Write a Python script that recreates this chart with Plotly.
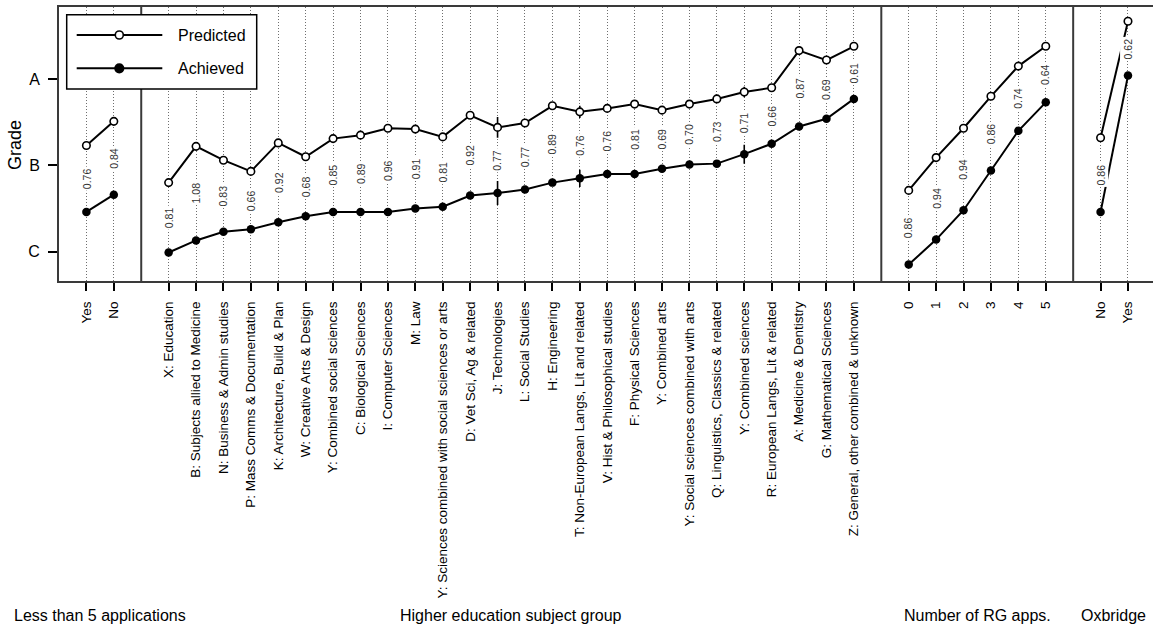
import plotly.graph_objects as go

# ---- data -------------------------------------------------------------
# Grades are on a numeric scale: C = 1, B = 2, A = 3
apps_labels = ["Yes", "No"]
apps_pred = [2.23, 2.51]
apps_ach = [1.46, 1.66]
apps_sd = ["0.76", "0.84"]

subject_labels = [
    "X: Education",
    "B: Subjects allied to Medicine",
    "N: Business & Admin studies",
    "P: Mass Comms & Documentation",
    "K: Architecture, Build & Plan",
    "W: Creative Arts & Design",
    "Y: Combined social sciences",
    "C: Biological Sciences",
    "I: Computer Sciences",
    "M: Law",
    "Y: Sciences combined with social sciences or arts",
    "D: Vet Sci, Ag & related",
    "J: Technologies",
    "L: Social Studies",
    "H: Engineering",
    "T: Non-European Langs, Lit and related",
    "V: Hist & Philosophical studies",
    "F: Physical Sciences",
    "Y: Combined arts",
    "Y: Social sciences combined with arts",
    "Q: Linguistics, Classics & related",
    "Y: Combined sciences",
    "R: European Langs, Lit & related",
    "A: Medicine & Dentistry",
    "G: Mathematical Sciences",
    "Z: General, other combined & unknown",
]
subject_pred = [1.80, 2.22, 2.06, 1.93, 2.26, 2.10, 2.31, 2.35, 2.43, 2.42,
                2.33, 2.58, 2.44, 2.49, 2.69, 2.62, 2.66, 2.71, 2.64, 2.71,
                2.77, 2.85, 2.90, 3.33, 3.22, 3.38]
subject_ach = [0.99, 1.13, 1.23, 1.26, 1.34, 1.41, 1.46, 1.46, 1.46, 1.50,
               1.52, 1.65, 1.68, 1.72, 1.80, 1.85, 1.90, 1.90, 1.96, 2.01,
               2.02, 2.13, 2.25, 2.45, 2.54, 2.77]
subject_pred_err = [0, 0, 0, 0, 0, 0, 0, 0, 0, 0,
                    0, 0, 0.12, 0, 0, 0.07, 0, 0, 0, 0,
                    0, 0.06, 0, 0, 0, 0]
subject_ach_err = [0, 0, 0, 0, 0, 0, 0, 0, 0, 0,
                   0, 0, 0.14, 0, 0, 0.10, 0, 0, 0, 0,
                   0, 0.11, 0, 0, 0, 0]
subject_sd = ["0.81", "1.08", "0.83", "0.66", "0.92", "0.68", "0.85", "0.89",
              "0.96", "0.91", "0.81", "0.92", "0.77", "0.77", "0.89", "0.76",
              "0.76", "0.81", "0.69", "0.70", "0.73", "0.71", "0.66", "0.87",
              "0.69", "0.61"]

rg_labels = ["0", "1", "2", "3", "4", "5"]
rg_pred = [1.71, 2.09, 2.43, 2.80, 3.15, 3.38]
rg_ach = [0.85, 1.14, 1.48, 1.94, 2.40, 2.73]
rg_sd = ["0.86", "0.94", "0.94", "0.86", "0.74", "0.64"]

oxb_labels = ["No", "Yes"]
oxb_pred = [2.32, 3.67]
oxb_ach = [1.46, 3.04]
oxb_sd = ["0.86", "0.62"]

grade_vals = [1, 2, 3]
grade_text = ["C", "B", "A"]

panel_titles = ["Less than 5 applications", "Higher education subject group",
                "Number of RG apps.", "Oxbridge"]

# ---- layout geometry ---------------------------------------------------
FONT = "Liberation Sans, Arial, sans-serif"
FRAME = "#3a3a3a"
W, H = 1153, 630
ML, MR, MT, MB = 59, 0, 7, 349
plot_w = W - ML - MR
plot_h = H - MT - MB
unit = 27.41  # pixels per category slot

# each panel spans (n categories + 1) slots
slots = [3, 27, 7]
bounds = [0.0]
for s in slots:
    bounds.append(bounds[-1] + s * unit / plot_w)
bounds.append(1.0)
last_range_hi = -1 + (plot_w - sum(slots) * unit) / unit

panels = [
    (apps_labels, apps_pred, apps_ach, None, None, apps_sd),
    (subject_labels, subject_pred, subject_ach, subject_pred_err, subject_ach_err, subject_sd),
    (rg_labels, rg_pred, rg_ach, None, None, rg_sd),
    (oxb_labels, oxb_pred, oxb_ach, None, None, oxb_sd),
]

fig = go.Figure()
annotations = []
layout_axes = {}

for i, (labels, pred, ach, perr, aerr, sd) in enumerate(panels):
    n = len(labels)
    xs = list(range(n))
    xref = "x" if i == 0 else f"x{i + 1}"
    axname = "xaxis" if i == 0 else f"xaxis{i + 1}"

    pred_kw = {}
    ach_kw = {}
    if perr is not None:
        pred_kw["error_y"] = dict(type="data", array=perr, width=0,
                                  thickness=1.6, color="black")
        ach_kw["error_y"] = dict(type="data", array=aerr, width=0,
                                 thickness=1.6, color="black")

    fig.add_trace(go.Scatter(
        x=xs, y=pred, xaxis=xref, yaxis="y", mode="lines+markers",
        name="Predicted", showlegend=False,
        line=dict(color="black", width=2),
        marker=dict(symbol="circle", size=7.5, color="white",
                    line=dict(color="black", width=1.6)),
        **pred_kw))
    fig.add_trace(go.Scatter(
        x=xs, y=ach, xaxis=xref, yaxis="y", mode="lines+markers",
        name="Achieved", showlegend=False,
        line=dict(color="black", width=2),
        marker=dict(symbol="circle", size=8.5, color="black"),
        **ach_kw))

    # spread labels half-way between the two series
    for x, p, a, t in zip(xs, pred, ach, sd):
        annotations.append(dict(
            x=x, y=(p + a) / 2, xref=xref, yref="y", text=t,
            textangle=-90, showarrow=False, bgcolor="white", borderpad=1,
            font=dict(family=FONT, size=10.5, color="#333333")))

    hi = last_range_hi if i == 3 else n
    layout_axes[axname] = dict(
        domain=[bounds[i], bounds[i + 1]], range=[-1, hi], anchor="y",
        tickmode="array", tickvals=xs, ticktext=labels, tickangle=-90,
        ticks="outside", ticklen=8, tickwidth=1.5, tickcolor="black",
        ticklabelstandoff=5,
        tickfont=dict(family=FONT, size=13.5, color="black"),
        showline=True, mirror=True, linecolor=FRAME, linewidth=2,
        showgrid=True, gridcolor="#6e6e6e", gridwidth=1, griddash="1px,2px",
        zeroline=False, fixedrange=True)

    annotations.append(dict(
        x=(bounds[i] + bounds[i + 1]) / 2, y=(MB - 15) / -plot_h + 0.0,
        xref="paper", yref="paper", text=panel_titles[i], showarrow=False,
        yanchor="middle", xanchor="center",
        font=dict(family=FONT, size=16, color="black")))


def px_x(px):
    return (px - ML) / plot_w


def px_y(py):
    return (MT + plot_h - py) / plot_h


# y-axis title
annotations.append(dict(
    x=px_x(15), y=px_y(145), xref="paper", yref="paper", text="Grade",
    textangle=-90, showarrow=False, xanchor="center", yanchor="middle",
    font=dict(family=FONT, size=18, color="black")))

shapes = []
# panel dividers
for b in bounds[1:-1]:
    shapes.append(dict(type="line", xref="paper", yref="paper", x0=b, x1=b,
                       y0=0, y1=1, line=dict(color=FRAME, width=2),
                       layer="above"))

# legend box
shapes.append(dict(type="rect", xref="paper", yref="paper",
                   x0=px_x(66.7), x1=px_x(256.7), y0=px_y(89), y1=px_y(14.7),
                   fillcolor="white", line=dict(color="black", width=1.5),
                   layer="above"))
legend_rows = [("Predicted", 35, "white"), ("Achieved", 68.3, "black")]
for name, py, fill in legend_rows:
    shapes.append(dict(type="line", xref="paper", yref="paper",
                       x0=px_x(76.7), x1=px_x(162.3), y0=px_y(py), y1=px_y(py),
                       line=dict(color="black", width=2), layer="above"))
    r = 4.0 if fill == "white" else 4.3
    shapes.append(dict(type="circle", xref="paper", yref="paper",
                       xsizemode="pixel", ysizemode="pixel",
                       xanchor=px_x(119.3), yanchor=px_y(py),
                       x0=-r, x1=r, y0=-r, y1=r, fillcolor=fill,
                       line=dict(color="black", width=1.6), layer="above"))
    annotations.append(dict(
        x=px_x(176), y=px_y(py), xref="paper", yref="paper", text=name,
        showarrow=False, xanchor="left", yanchor="middle",
        font=dict(family=FONT, size=16, color="black")))

fig.update_layout(
    width=W, height=H,
    margin=dict(l=ML, r=MR, t=MT, b=MB, pad=0),
    paper_bgcolor="white", plot_bgcolor="white",
    showlegend=False,
    yaxis=dict(range=[0.66, 3.835], tickmode="array", tickvals=grade_vals,
               ticktext=grade_text, ticks="outside", ticklen=9, tickwidth=1.5,
               tickcolor="black", ticklabelstandoff=5,
               tickfont=dict(family=FONT, size=16, color="black"),
               showline=True, linecolor=FRAME, linewidth=2,
               showgrid=False, zeroline=False, fixedrange=True),
    annotations=annotations,
    shapes=shapes,
    **layout_axes,
)

fig.write_html("out.html")
